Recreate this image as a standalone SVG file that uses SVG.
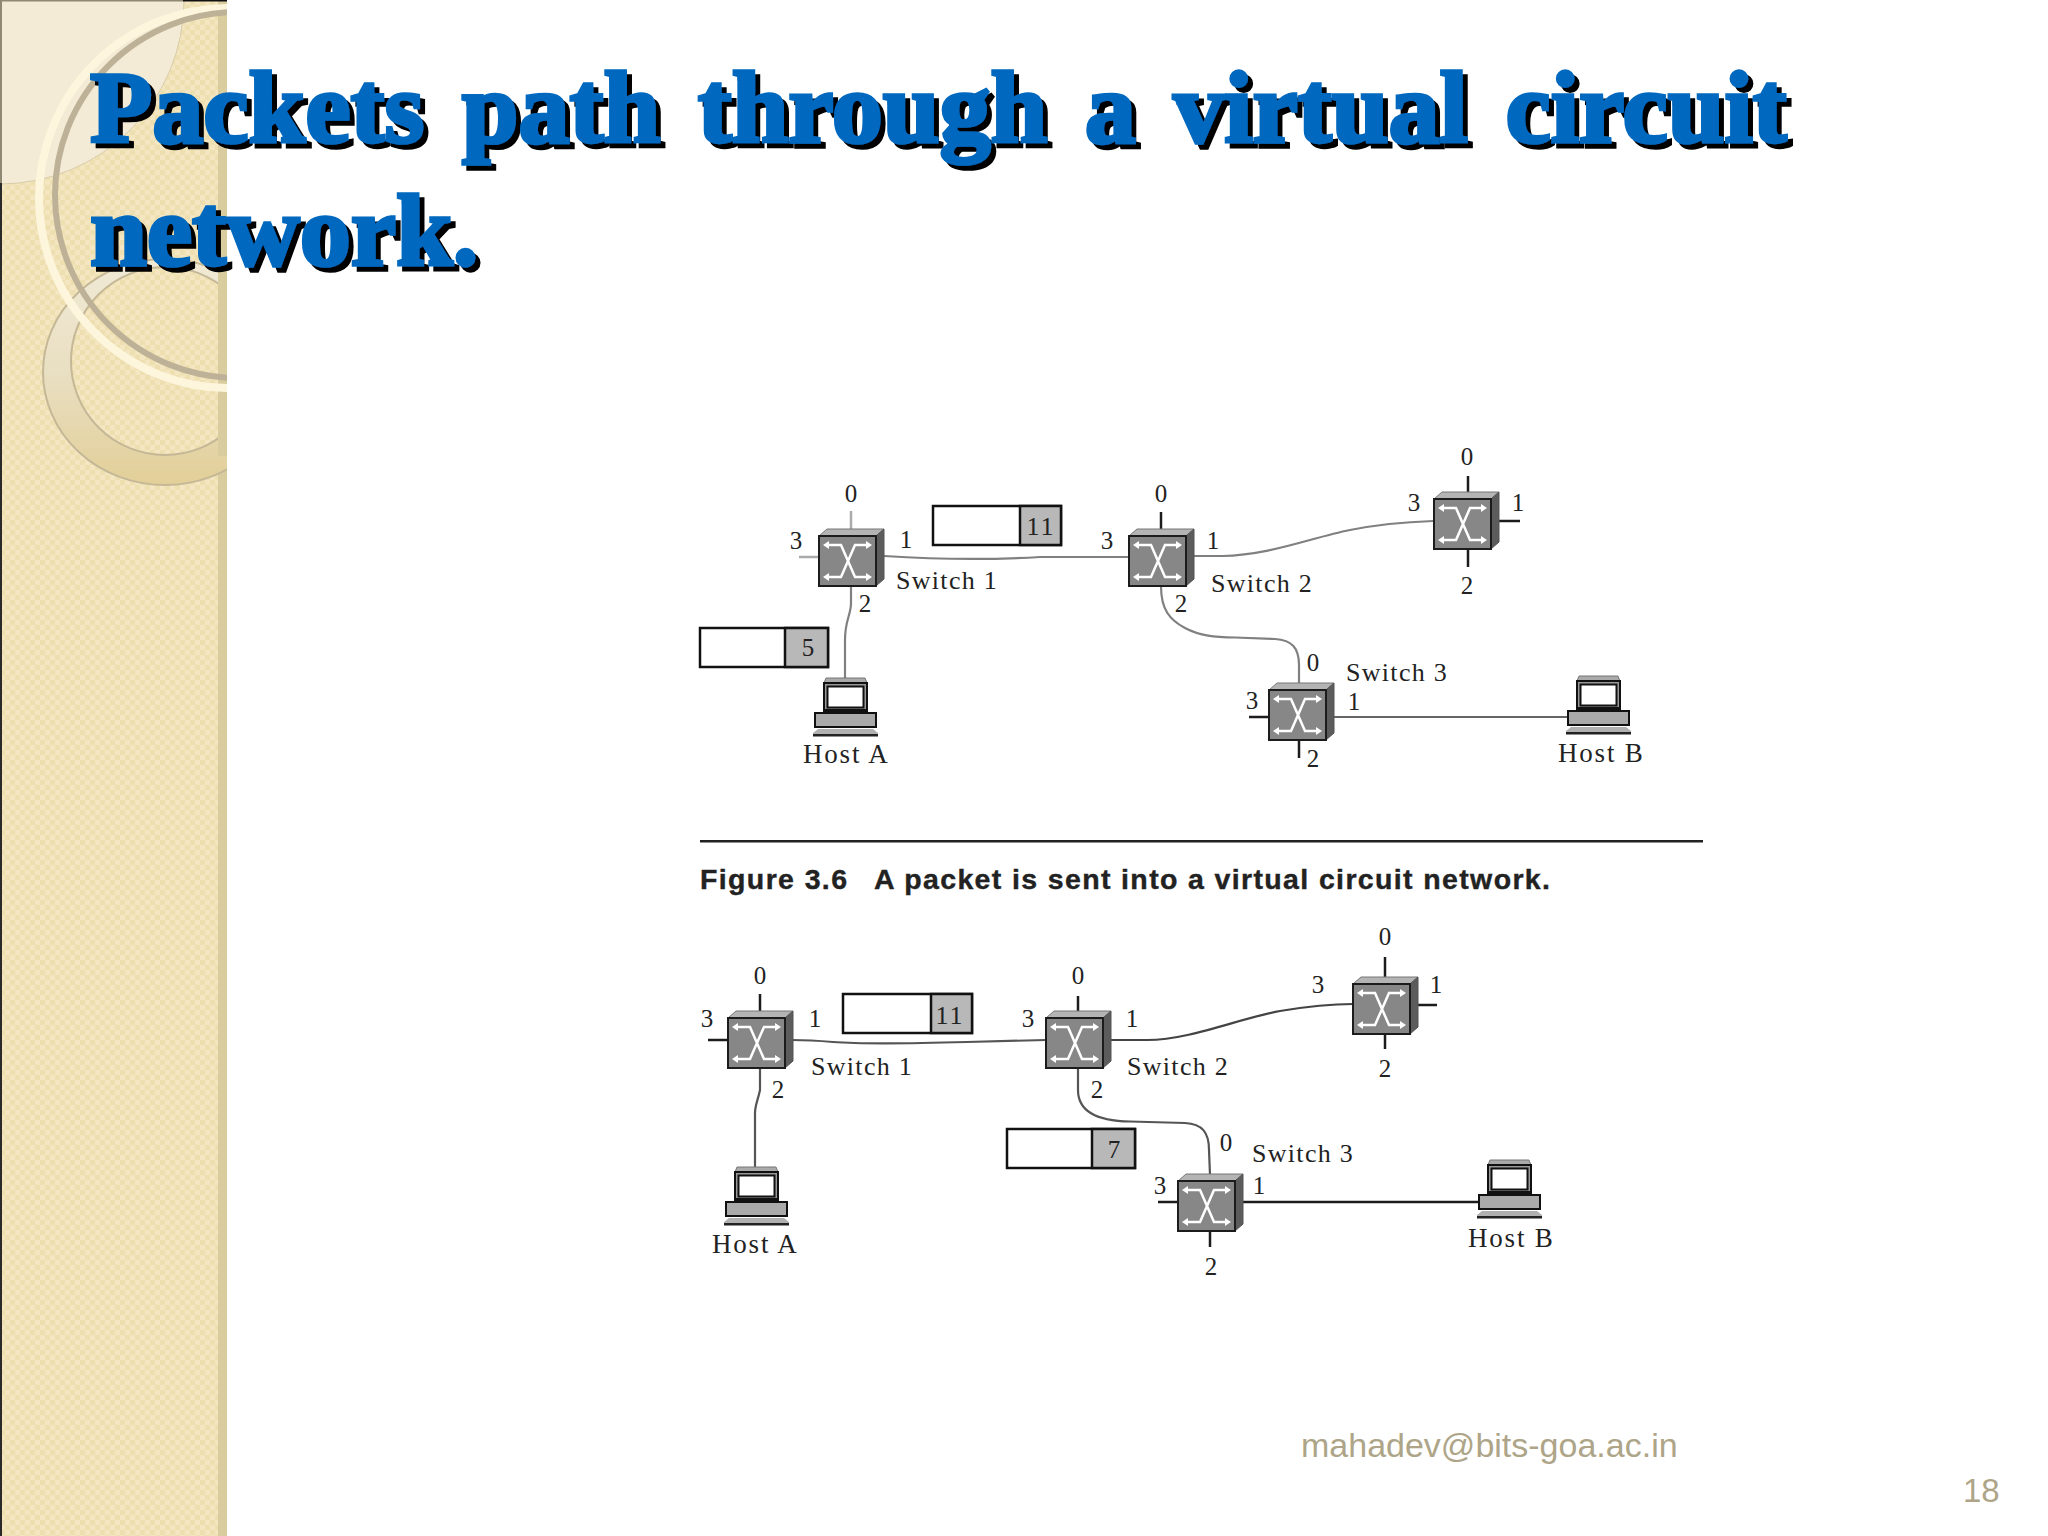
<svg xmlns="http://www.w3.org/2000/svg" width="2048" height="1536" viewBox="0 0 2048 1536">
<style>
.title{font-family:"Liberation Serif",serif;font-weight:bold;font-size:102px;word-spacing:12px;fill:#0468bf;stroke:#0468bf;stroke-width:3.5px;filter:url(#shadow)}
.d{font-family:"Liberation Serif",serif;font-size:25px;fill:#222;text-anchor:middle}
.n{font-family:"Liberation Serif",serif;font-size:26px;fill:#222;text-anchor:middle;letter-spacing:2px}
.l{font-family:"Liberation Serif",serif;font-size:26px;fill:#222;letter-spacing:1.3px}
.h{font-family:"Liberation Serif",serif;font-size:27px;fill:#222;letter-spacing:1.8px}
.c{font-family:"Liberation Sans",sans-serif;font-weight:bold;font-size:28.5px;fill:#222;stroke:#222;stroke-width:.4px}
.foot{font-family:"Liberation Sans",sans-serif;fill:#aea588}
.stub{stroke:#1c1c1c;stroke-width:2.5;fill:none}
.lg{stroke:#aaa;stroke-width:2.5;fill:none}
.link{stroke:#808080;stroke-width:2.2;fill:none}
.box{fill:#fff;stroke:#111;stroke-width:2.5}
.cell{fill:#b8b8b8;stroke:#111;stroke-width:2.5}
</style>
<defs>
<filter id="shadow" x="-5%" y="-20%" width="110%" height="140%">
<feOffset in="SourceAlpha" dx="5" dy="5" result="o"/>
<feFlood flood-color="#000"/>
<feComposite in2="o" operator="in" result="s"/>
<feMerge><feMergeNode in="s"/><feMergeNode in="SourceGraphic"/></feMerge>
</filter>
<pattern id="check" width="10" height="10" patternUnits="userSpaceOnUse">
<rect width="10" height="10" fill="#f3e6c0"/>
<rect width="5" height="5" fill="#eedfb0"/>
<rect x="5" y="5" width="5" height="5" fill="#eedfb0"/>
</pattern>
<clipPath id="side"><rect width="227" height="1536"/></clipPath>
<linearGradient id="cres" x1="0" y1="0" x2="0" y2="1">
<stop offset="0" stop-color="#f0ead8" stop-opacity=".9"/>
<stop offset=".5" stop-color="#e9dfc2"/>
<stop offset="1" stop-color="#e2cf98"/>
</linearGradient>
<g id="switch">
<polygon points="0,0 8,-7 65,-7 57,0" fill="#b4b4b4" stroke="#777" stroke-width="1"/>
<polygon points="57,0 65,-7 65,43 57,50" fill="#5c5c5c" stroke="#555" stroke-width="1"/>
<rect width="57" height="50" fill="#878787" stroke="#1c1c1c" stroke-width="2"/>
<path d="M8 9H22L36 41H50M50 9H36L22 41H8" fill="none" stroke="#fff" stroke-width="2.5"/>
<path d="M4 9L10 5V13ZM53 9L47 5V13ZM4 41L10 37V45ZM53 41L47 37V45Z" fill="#fff"/>
</g>
<g id="host">
<polygon points="11,-35 50,-35 52,-30 9,-30" fill="#aaa" stroke="#777" stroke-width="1"/>
<rect x="9" y="-30" width="43" height="30" fill="#999" stroke="#111" stroke-width="2"/>
<rect x="12.5" y="-26.5" width="36" height="21" fill="#fff" stroke="#111" stroke-width="2"/>
<rect x="9" y="-4" width="43" height="4" fill="#111"/>
<rect width="61" height="14" fill="#aaa" stroke="#111" stroke-width="2"/>
<polygon points="3,16 58,16 63,20 63,23 -2,23 -2,20" fill="#b0b0b0"/>
<rect x="-2" y="21" width="65" height="2.5" fill="#222"/>
</g>
</defs>
<rect width="2048" height="1536" fill="#fff"/>
<g id="sidebar" clip-path="url(#side)">
<rect width="227" height="1536" fill="url(#check)"/>
<circle cx="0" cy="0" r="184" fill="#f3ebd5" stroke="#d8cda8" stroke-width="1"/>
<rect x="218" width="9" height="1536" fill="#d9cc9e"/>
<ellipse cx="165" cy="372" rx="122" ry="113" fill="url(#cres)" stroke="#c4b897" stroke-width="2"/>
<circle cx="165" cy="361" r="94" fill="url(#check)" stroke="#c4b897" stroke-width="2"/>
<rect x="218" y="266" width="9" height="190" fill="#d9cc9e"/>
<circle cx="229" cy="198" r="190" fill="none" stroke="#fdf6dc" stroke-width="8"/>
<circle cx="238" cy="195" r="183" fill="none" stroke="#bdb297" stroke-width="6"/>
<rect x="0" y="183" width="2" height="1353" fill="#2a2a2a"/>
<rect x="0" width="2" height="183" fill="#8f8872"/>
<rect width="183" height="1.5" fill="#8f8872"/>
<rect x="183" width="44" height="1.5" fill="#111"/>
</g>
<g id="title">
<text class="title" x="90" y="142">Packets path through a virtual circuit</text>
<text class="title" x="90" y="265">network.</text>
</g>
<g id="connectors">
<path class="lg" d="M851 511V529M799 557H819"/>
<path class="link" d="M884 556C930 559 990 560 1040 557H1129"/>
<path class="link" d="M851 586V603C851 615 845 620 845 640V678"/>
<path class="stub" d="M1161 512V529"/>
<path class="link" d="M1193 556H1222C1270 555 1310 538 1350 530C1380 524 1405 522 1433 521"/>
<path class="link" d="M1161 586C1161 610 1170 620 1185 628C1200 636 1215 637 1235 637.5L1275 639C1292 640 1299 648 1299 665V684"/>
<path class="stub" d="M1468 476V493M1499 521H1520M1468 549V567"/>
<path class="stub" d="M1249 717H1269M1299 739V758"/>
<path class="link" style="stroke:#666" d="M1334 717H1568"/>
<path class="stub" d="M760 994V1012M708 1040H728"/>
<path class="link" style="stroke:#555" d="M760 1068V1090C758 1100 755 1105 755 1113V1167"/>
<path class="link" style="stroke:#555" d="M792 1040C810 1040 833 1042 833 1042C860 1044 930 1043 967 1042L1046 1040"/>
<path class="stub" d="M1078 996V1012M1158 1202H1178M1210 1230V1247M1385 957V977M1417 1005H1437M1385 1034V1049"/>
<path class="link" style="stroke:#444" d="M1110 1040H1147C1190 1040 1240 1018 1280 1011C1310 1006 1330 1004 1353 1004"/>
<path class="link" style="stroke:#555" d="M1078 1068V1090C1078 1110 1095 1121 1130 1121.5L1185 1123C1202 1124 1209 1132 1209 1150L1210 1175"/>
<path class="stub" d="M1242 1202H1479"/>
</g>
<g id="top-switch-1"><use href="#switch" x="819" y="536"/>
<text class="d" x="851" y="502">0</text><text class="d" x="796" y="549">3</text><text class="d" x="906" y="548">1</text><text class="d" x="865" y="612">2</text>
<text class="l" x="896" y="589">Switch 1</text></g>
<g id="top-switch-2"><use href="#switch" x="1129" y="536"/>
<text class="d" x="1161" y="502">0</text><text class="d" x="1107" y="549">3</text><text class="d" x="1213" y="549">1</text><text class="d" x="1181" y="612">2</text>
<text class="l" x="1211" y="592">Switch 2</text></g>
<g id="top-switch-3"><use href="#switch" x="1269" y="690"/>
<text class="d" x="1313" y="671">0</text><text class="d" x="1252" y="709">3</text><text class="d" x="1354" y="710">1</text><text class="d" x="1313" y="767">2</text>
<text class="l" x="1346" y="681">Switch 3</text></g>
<g id="top-switch-4"><use href="#switch" x="1434" y="499"/>
<text class="d" x="1467" y="465">0</text><text class="d" x="1414" y="511">3</text><text class="d" x="1518" y="511">1</text><text class="d" x="1467" y="594">2</text></g>
<g id="top-host-a"><use href="#host" x="815" y="713"/><text class="h" x="803" y="763">Host A</text></g>
<g id="top-host-b"><use href="#host" x="1568" y="711"/><text class="h" x="1558" y="762">Host B</text></g>
<g id="top-packet-11"><rect class="box" x="933" y="506" width="128" height="39"/><rect class="cell" x="1020" y="506" width="41" height="39"/><text class="n" x="1041" y="535">11</text></g>
<g id="top-packet-5"><rect class="box" x="700" y="628" width="128" height="39"/><rect class="cell" x="785" y="628" width="43" height="39"/><text class="d" x="808" y="656">5</text></g>
<g id="caption">
<rect x="700" y="840" width="1003" height="2.5" fill="#222"/>
<text class="c" x="700" y="889" textLength="147">Figure 3.6</text>
<text class="c" x="874" y="889" textLength="676">A packet is sent into a virtual circuit network.</text>
</g>
<g id="bottom-switch-1"><use href="#switch" x="728" y="1018"/>
<text class="d" x="760" y="984">0</text><text class="d" x="707" y="1027">3</text><text class="d" x="815" y="1027">1</text><text class="d" x="778" y="1098">2</text>
<text class="l" x="811" y="1075">Switch 1</text></g>
<g id="bottom-switch-2"><use href="#switch" x="1046" y="1018"/>
<text class="d" x="1078" y="984">0</text><text class="d" x="1028" y="1027">3</text><text class="d" x="1132" y="1027">1</text><text class="d" x="1097" y="1098">2</text>
<text class="l" x="1127" y="1075">Switch 2</text></g>
<g id="bottom-switch-3"><use href="#switch" x="1178" y="1181"/>
<text class="d" x="1226" y="1151">0</text><text class="d" x="1160" y="1194">3</text><text class="d" x="1259" y="1194">1</text><text class="d" x="1211" y="1275">2</text>
<text class="l" x="1252" y="1162">Switch 3</text></g>
<g id="bottom-switch-4"><use href="#switch" x="1353" y="984"/>
<text class="d" x="1385" y="945">0</text><text class="d" x="1318" y="993">3</text><text class="d" x="1436" y="993">1</text><text class="d" x="1385" y="1077">2</text></g>
<g id="bottom-host-a"><use href="#host" x="726" y="1202"/><text class="h" x="712" y="1253">Host A</text></g>
<g id="bottom-host-b"><use href="#host" x="1479" y="1195"/><text class="h" x="1468" y="1247">Host B</text></g>
<g id="bottom-packet-11"><rect class="box" x="843" y="994" width="129" height="39"/><rect class="cell" x="931" y="994" width="41" height="39"/><text class="n" x="950" y="1024">11</text></g>
<g id="bottom-packet-7"><rect class="box" x="1007" y="1129" width="128" height="39"/><rect class="cell" x="1092" y="1129" width="43" height="39"/><text class="d" x="1114" y="1158">7</text></g>
<g id="footer">
<text class="foot" x="1301" y="1457" font-size="34">mahadev@bits-goa.ac.in</text>
<text class="foot" x="1963" y="1502" font-size="33">18</text>
</g>
</svg>
